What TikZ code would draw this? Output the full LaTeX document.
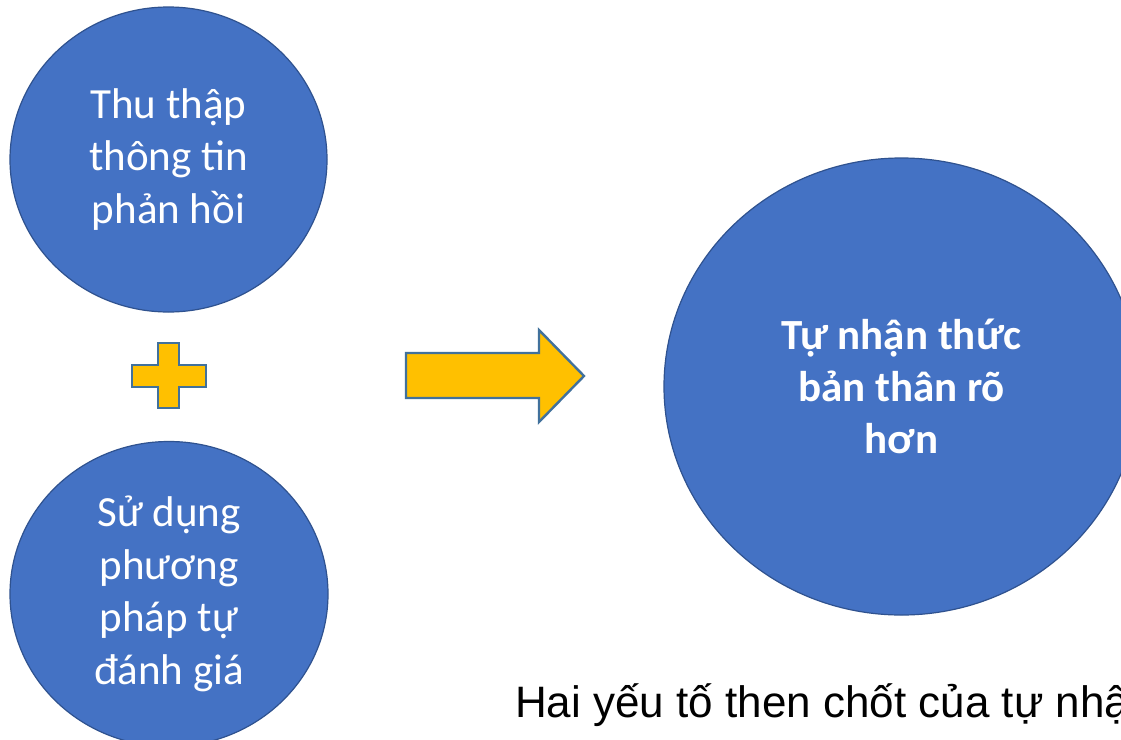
\documentclass[tikz,border=0pt]{standalone}
\usepackage{fontspec}
\setmainfont{Carlito}
\newfontfamily\arialfont{Liberation Sans}
\usetikzlibrary{shapes.geometric}

\definecolor{bubblefill}{HTML}{4472C4}
\definecolor{bubbleline}{HTML}{2F528F}
\definecolor{goldfill}{HTML}{FFC000}
\definecolor{goldline}{HTML}{41719C}

\tikzset{
  bubble/.style={ellipse, fill=bubblefill, draw=bubbleline, line width=1.2pt,
    inner sep=0pt, text=white, align=center,
    font=\fontsize{43}{52.5}\selectfont},
  boldbubble/.style={bubble, font=\fontsize{43}{52}\selectfont\bfseries},
  goldshape/.style={fill=goldfill, draw=goldline, line width=2.4pt, line join=miter},
  caption/.style={anchor=base west, inner sep=0pt, text=black,
    font=\arialfont\fontsize{44}{52}\selectfont}
}

\begin{document}
\begin{tikzpicture}[x=1pt, y=-1pt]
  \useasboundingbox (0,0) rectangle (1121,739);
  \clip (0,0) rectangle (1121,739);
  \fill[white] (0,0) rectangle (1121,739);

  % the two inputs
  \node[bubble, minimum width=317pt, minimum height=305pt] (feedback) at (168.5,159.5)
    {Thu thập\\thông tin\\phản hồi};
  \node[bubble, minimum width=318pt, minimum height=305pt] (selfeval) at (169,594)
    {Sử dụng\\phương\\pháp tự\\đánh giá};

  % plus sign between the inputs
  \draw[goldshape] (158,343) -- (179,343) -- (179,365) -- (206,365) -- (206,387)
    -- (179,387) -- (179,408) -- (158,408) -- (158,387) -- (132,387)
    -- (132,365) -- (158,365) -- cycle;

  % block arrow towards the result
  \draw[goldshape] (406,353) -- (539,353) -- (539,330) -- (584,376) -- (539,422)
    -- (539,398) -- (406,398) -- cycle;

  % the result
  \node[boldbubble, minimum width=475pt, minimum height=457pt] (result) at (901.5,386.5)
    {Tự nhận thức\\bản thân rõ\\hơn};

  % caption along the bottom
  \node[caption] (title) at (515,717) {Hai yếu tố then chốt của tự nhận};
\end{tikzpicture}
\end{document}
